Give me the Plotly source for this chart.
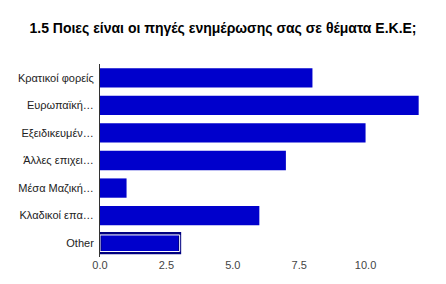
import plotly.graph_objects as go

categories = ["Κρατικοί φορείς", "Ευρωπαϊκή…", "Εξειδικευμέν…", "Άλλες επιχει…",
              "Μέσα Μαζική…", "Κλαδικοί επα…", "Other"]
values = [8, 12, 10, 7, 1, 6, 3]
tick_vals = [0, 2.5, 5, 7.5, 10]
tick_text = ["0.0", "2.5", "5.0", "7.5", "10.0"]

n = len(categories)
line_colors = ["#0000cc"] * (n - 1) + ["#000080"]
line_widths = [0] * (n - 1) + [3]

fig = go.Figure()
fig.add_trace(go.Bar(
    y=categories, x=values, orientation="h",
    marker=dict(color="#0000cc", line=dict(color=line_colors, width=line_widths)),
    hoverinfo="skip",
))
# highlight inner outline of the selected (last) bar
fig.add_trace(go.Bar(
    y=categories[-1:], x=values[-1:], orientation="h", width=0.6,
    marker=dict(color="rgba(0,0,0,0)", line=dict(color="white", width=1)),
    hoverinfo="skip",
))

fig.update_layout(
    width=446, height=284,
    margin=dict(l=100, r=26, t=64, b=27),
    paper_bgcolor="white", plot_bgcolor="white",
    bargap=0.3, barmode="overlay",
    showlegend=False,
    title=dict(text="<b>1.5 Ποιες είναι οι πηγές ενημέρωσης σας σε θέματα Ε.Κ.Ε;</b>",
               x=0.5, xanchor="center", y=1 - 28 / 284, yanchor="middle",
               font=dict(family="Liberation Sans, Arial", size=14, color="#000")),
    font=dict(family="Liberation Sans, Arial", size=11, color="#222"),
)
fig.update_xaxes(range=[0, 12.05], tickvals=tick_vals, ticktext=tick_text,
                 showgrid=False, zeroline=False, showline=False, ticks="",
                 tickfont=dict(size=11, color="#444"))
fig.update_yaxes(autorange="reversed", showgrid=False, showline=True,
                 linecolor="#333", linewidth=1, ticks="", ticklabelstandoff=3,
                 tickfont=dict(size=11, color="#222"))

fig.write_html("out.html")
